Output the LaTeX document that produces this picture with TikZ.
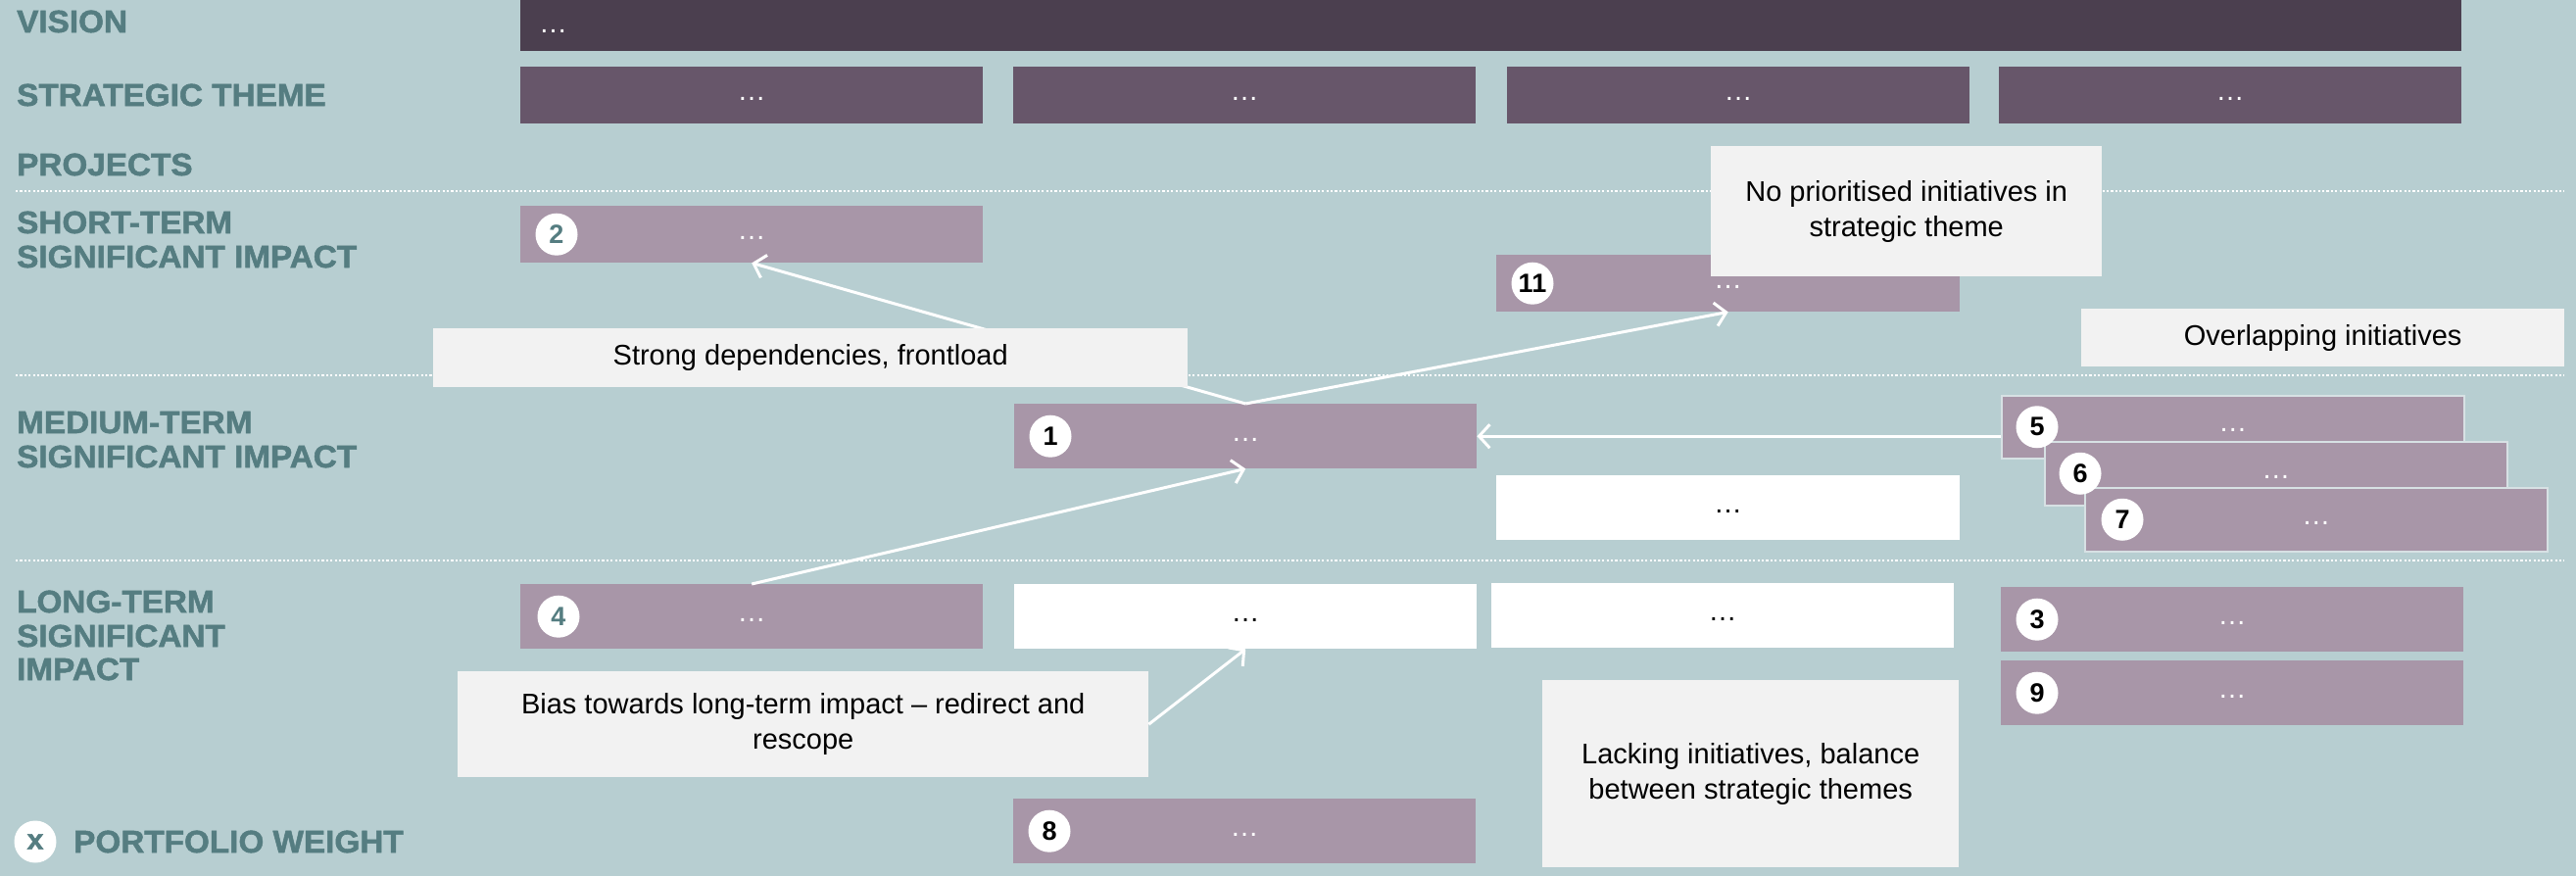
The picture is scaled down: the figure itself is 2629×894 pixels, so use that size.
\documentclass[tikz,border=0pt]{standalone}
\usepackage{fontspec}
\setmainfont{Liberation Sans}
\newfontfamily\lblfont[FakeStretch=1.04,BoldFeatures={FakeBold=1.6}]{Liberation Sans}
\usetikzlibrary{arrows.meta}
\definecolor{bgc}{RGB}{183,206,209}
\definecolor{visc}{RGB}{75,63,79}
\definecolor{themec}{RGB}{103,86,106}
\definecolor{pboxc}{RGB}{168,150,168}
\definecolor{lblc}{RGB}{85,125,129}
\definecolor{callc}{RGB}{242,242,242}
\definecolor{edgec}{RGB}{215,225,228}
\begin{document}
\begin{tikzpicture}[x=1pt,y=-1pt,
  bodyfont/.style={font=\fontsize{29}{36}\selectfont},
  lbl/.style={font=\lblfont\bfseries\fontsize{32}{36}\selectfont, text=lblc, anchor=base west, inner sep=0pt},
  bar/.style={anchor=north west, inner sep=0pt, text=white, bodyfont, text height=18pt, text depth=8pt},
  themebar/.style={bar, fill=themec, minimum width=472pt, minimum height=58pt},
  pbox/.style={bar, fill=pboxc, minimum width=472pt, minimum height=66pt},
  sbox/.style={pbox, draw=edgec, line width=1.5pt},
  wbox/.style={bar, fill=white, text=black, minimum width=472pt, minimum height=66pt},
  callout/.style={anchor=north west, fill=callc, inner sep=0pt, bodyfont, align=center, text=black},
  numc/.style={circle, fill=white, minimum size=43pt, inner sep=0pt, font=\bfseries\fontsize{27}{30}\selectfont, text=black},
  sep/.style={white, line width=2.5pt, dash pattern=on 2.2pt off 2.2pt},
  arr/.style={white, line width=3pt, -{Straight Barb[length=11pt,width=24pt]}},
]
\useasboundingbox (0,0) rectangle (2629,894);
\fill[bgc] (0,0) rectangle (2629,894);

% separators
\draw[sep] (16,195) -- (2617,195);
\draw[sep] (16,383) -- (2617,383);
\draw[sep] (16,572) -- (2617,572);

% labels
\node[lbl] (lvision) at (17,33) {VISION};
\node[lbl] (ltheme) at (17,108) {STRATEGIC THEME};
\node[lbl] (lproj) at (17,179) {PROJECTS};
\node[lbl] (lshort1) at (17,238) {SHORT-TERM};
\node[lbl] (lshort2) at (17,273) {SIGNIFICANT IMPACT};
\node[lbl] (lmed1) at (17,442) {MEDIUM-TERM};
\node[lbl] (lmed2) at (17,477) {SIGNIFICANT IMPACT};
\node[lbl] (llong1) at (17,625) {LONG-TERM};
\node[lbl] (llong2) at (17,660) {SIGNIFICANT};
\node[lbl] (llong3) at (17,694) {IMPACT};
\node[numc, text=lblc, font=\lblfont\bfseries\fontsize{29}{30}\selectfont] (xc) at (36,859) {x};
\node[lbl] (lweight) at (75,870) {PORTFOLIO WEIGHT};

% vision and themes
\node[bar, fill=visc, minimum width=1981pt, minimum height=52pt] (vision) at (531,0) {};
\node[anchor=base west, inner sep=0pt, text=white, bodyfont] (visdots) at (550,33) {…};
\node[themebar] (t1) at (531,68) {…};
\node[themebar] (t2) at (1034,68) {…};
\node[themebar] (t3) at (1538,68) {…};
\node[themebar] (t4) at (2040,68) {…};

% project boxes
\node[pbox, minimum height=58pt] (b2) at (531,210) {…};
\node[pbox, minimum height=58pt, minimum width=473pt] (b11) at (1527,260) {…};
\node[pbox] (b1) at (1035,412) {…};
\node[wbox, minimum width=473pt] (wm) at (1527,485) {…};
\node[sbox, minimum height=64pt] (b5) at (2042,403) {…};
\node[sbox, minimum height=65pt] (b6) at (2086,450) {…};
\node[sbox, minimum height=65pt] (b7) at (2127,497) {…};
\node[pbox] (b4) at (531,596) {…};
\node[wbox] (wl2) at (1035,596) {…};
\node[wbox] (wl3) at (1522,595) {…};
\node[pbox] (b3) at (2042,599) {…};
\node[pbox] (b9) at (2042,674) {…};
\node[pbox] (b8) at (1034,815) {…};

% callouts (except the one over the arrow)
\node[callout, minimum width=399pt, minimum height=133pt] (noprio) at (1746,149) {No prioritised initiatives in\\strategic theme};
\node[callout, minimum width=493pt, minimum height=59pt] (overlap) at (2124,315) {Overlapping initiatives};
\node[callout, minimum width=705pt, minimum height=108pt] (bias) at (467,685) {Bias towards long-term impact -- redirect and\\rescope};
\node[callout, minimum width=425pt, minimum height=191pt] (lacking) at (1574,694) {Lacking initiatives, balance\\between strategic themes};

% arrows
\draw[arr] (b1.north) -- (b2.south);
\draw[arr] (b1.north) -- (b11.south);
\draw[arr] (b4.north) -- (b1.south);
\draw[arr] (bias.east) -- (wl2.south);
\draw[arr] (b5.west |- b1.east) -- (b1.east);

\node[callout, minimum width=770pt, minimum height=60pt] (strong) at (442,335) {Strong dependencies, frontload};

% number badges
\node[numc, text=lblc] (c2) at ([xshift=37pt]b2.west) {2};
\node[numc] (c11) at ([xshift=37pt]b11.west) {11};
\node[numc] (c1) at ([xshift=37pt]b1.west) {1};
\node[numc] (c5) at ([xshift=37pt]b5.west) {5};
\node[numc] (c6) at ([xshift=37pt]b6.west) {6};
\node[numc] (c7) at ([xshift=39pt]b7.west) {7};
\node[numc, text=lblc] (c4) at ([xshift=39pt]b4.west) {4};
\node[numc] (c3) at ([xshift=37pt]b3.west) {3};
\node[numc] (c9) at ([xshift=37pt]b9.west) {9};
\node[numc] (c8) at ([xshift=37pt]b8.west) {8};
\end{tikzpicture}
\end{document}
